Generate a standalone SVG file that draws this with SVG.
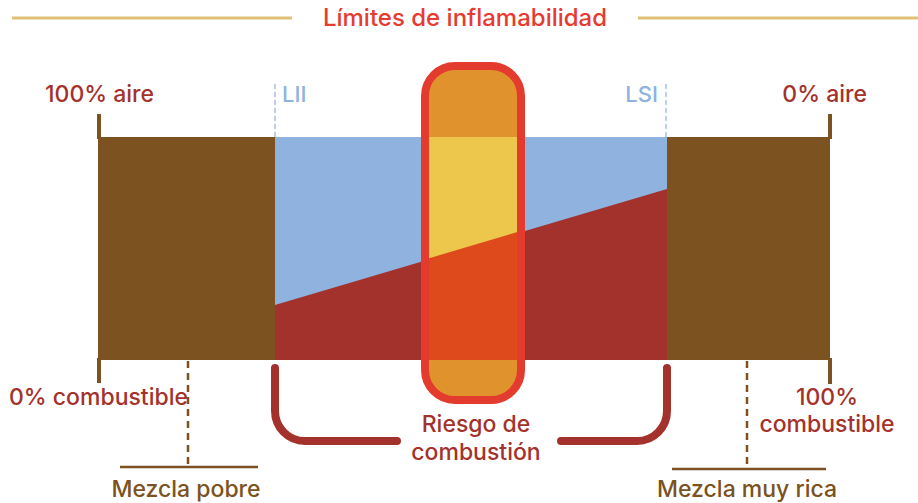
<svg xmlns="http://www.w3.org/2000/svg" width="918" height="503" viewBox="0 0 918 503">
<style>
.t{font-family:Inter,"Liberation Sans",sans-serif;font-weight:500}
.dr{fill:#a3322c;font-size:23px}
.br{fill:#7b5220;font-size:23px}
.lb{fill:#8fb2de;font-size:22px}
.tick{stroke:#7b5220;stroke-width:4;fill:none}
.dash{stroke:#7b5220;stroke-width:2.5;stroke-dasharray:7 5;fill:none}
.ldash{stroke:#8fb2de;stroke-width:1.2;stroke-dasharray:5 3;fill:none}
.brk{stroke:#a3322c;stroke-width:8;stroke-linecap:round;fill:none}
</style>
<defs>
<clipPath id="hc"><rect x="425" y="66" width="96" height="334" rx="30"/></clipPath>
</defs>
<g id="title">
<line x1="12" y1="18" x2="292" y2="18" stroke="#e0c077" stroke-width="3"/>
<line x1="638" y1="18" x2="918" y2="18" stroke="#e0c077" stroke-width="3"/>
<text class="t" x="465" y="26" text-anchor="middle" fill="#e53b30" font-size="24" font-weight="600">Límites de inflamabilidad</text>
</g>
<g id="bar">
<rect x="98" y="137" width="177" height="223" fill="#7b5220"/>
<rect x="667" y="137" width="163" height="223" fill="#7b5220"/>
<rect x="275" y="137" width="392" height="223" fill="#8fb2de"/>
<polygon points="275,305 667,189 667,360 275,360" fill="#a3322c"/>
<line class="tick" x1="99" y1="114" x2="99" y2="139"/>
<line class="tick" x1="830" y1="114" x2="830" y2="139"/>
<line class="tick" x1="99" y1="358" x2="99" y2="383"/>
<line class="tick" x1="830" y1="358" x2="830" y2="384"/>
</g>
<g id="limits">
<line class="ldash" x1="275" y1="84" x2="275" y2="137"/>
<line class="ldash" x1="666" y1="84" x2="666" y2="137"/>
<text class="t lb" x="282" y="102">LII</text>
<text class="t lb" x="658" y="102" text-anchor="end">LSI</text>
</g>
<g id="highlight">
<g clip-path="url(#hc)">
<rect x="420" y="60" width="110" height="345" fill="#e0932d"/>
<rect x="420" y="137" width="110" height="223" fill="#ecc74c"/>
<polygon points="420,260.9 530,228.3 530,360 420,360" fill="#df4a1c"/>
</g>
<rect x="425" y="66" width="96" height="334" rx="30" fill="none" stroke="#e43b2f" stroke-width="8"/>
</g>
<g id="labels">
<text class="t dr" x="45" y="102">100% aire</text>
<text class="t dr" x="867" y="102" text-anchor="end">0% aire</text>
<text class="t dr" x="9" y="405">0% combustible</text>
<text class="t dr" x="827" y="405" text-anchor="middle">100%</text>
<text class="t dr" x="827" y="432" text-anchor="middle">combustible</text>
<text class="t dr" x="476" y="432" text-anchor="middle">Riesgo de</text>
<text class="t dr" x="476" y="460" text-anchor="middle">combustión</text>
</g>
<g id="connectors">
<path class="brk" d="M275,368 V411 A30,30 0 0 0 305,441 H397"/>
<path class="brk" d="M667,368 V411 A30,30 0 0 1 637,441 H561"/>
<line class="dash" x1="188" y1="361" x2="188" y2="467"/>
<line x1="120" y1="467" x2="258" y2="467" stroke="#7b5220" stroke-width="2.5"/>
<line class="dash" x1="747" y1="361" x2="747" y2="469"/>
<line x1="672" y1="469" x2="826" y2="469" stroke="#7b5220" stroke-width="2.5"/>
</g>
<g id="mix">
<text class="t br" x="186" y="497" text-anchor="middle">Mezcla pobre</text>
<text class="t br" x="747" y="497" text-anchor="middle">Mezcla muy rica</text>
</g>
</svg>
